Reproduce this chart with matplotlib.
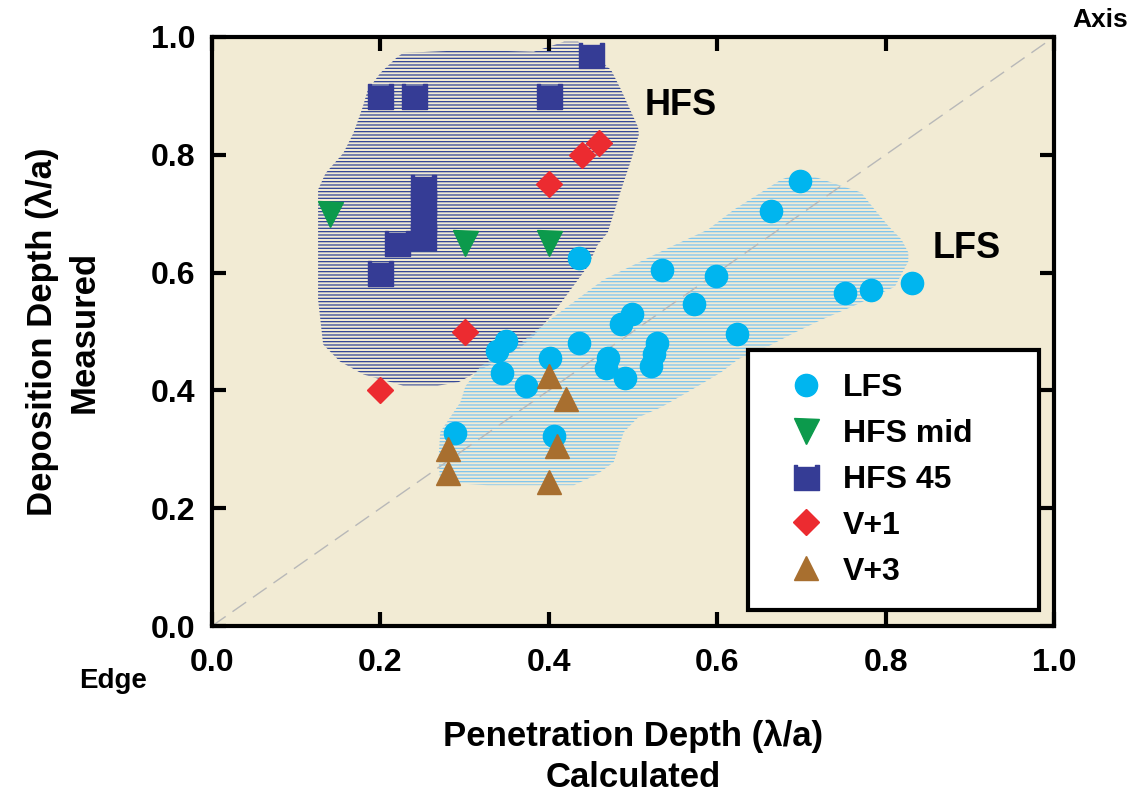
import matplotlib
matplotlib.use("Agg")
import matplotlib.pyplot as plt
from matplotlib.path import Path
from matplotlib.patches import Polygon

plt.rcParams['font.family'] = ['Liberation Sans', 'DejaVu Sans']
plt.rcParams['font.weight'] = 'bold'
plt.rcParams['hatch.linewidth'] = 0.9

# ---------------- data ----------------
lfs_x = [0.289, 0.406, 0.339, 0.349, 0.345, 0.373, 0.402, 0.436, 0.436, 0.470, 0.468,
         0.490, 0.486, 0.499, 0.529, 0.525, 0.521, 0.535, 0.573, 0.599, 0.623, 0.664,
         0.698, 0.752, 0.783, 0.831]
lfs_y = [0.328, 0.322, 0.467, 0.484, 0.430, 0.407, 0.455, 0.481, 0.625, 0.455, 0.438,
         0.421, 0.512, 0.529, 0.481, 0.461, 0.441, 0.605, 0.546, 0.594, 0.495, 0.704,
         0.755, 0.566, 0.571, 0.583]

hfs_mid_x = [0.14, 0.30, 0.40]
hfs_mid_y = [0.70, 0.65, 0.65]

hfs45_x = [0.20, 0.24, 0.40, 0.45, 0.22, 0.20, 0.25, 0.25, 0.25, 0.25]
hfs45_y = [0.90, 0.90, 0.90, 0.97, 0.65, 0.60, 0.66, 0.69, 0.72, 0.745]

v1_x = [0.20, 0.30, 0.40, 0.44, 0.46]
v1_y = [0.40, 0.50, 0.75, 0.80, 0.82]

v3_x = [0.28, 0.28, 0.40, 0.41, 0.40, 0.42]
v3_y = [0.26, 0.30, 0.245, 0.305, 0.425, 0.385]

# region outlines
hfs_region_x = [0.227, 0.307, 0.382, 0.418, 0.435, 0.474, 0.486, 0.506, 0.507, 0.498,
                0.486, 0.470, 0.458, 0.446, 0.426, 0.406, 0.382, 0.363, 0.327, 0.293,
                0.268, 0.227, 0.180, 0.152, 0.132, 0.126, 0.126, 0.135, 0.156, 0.168,
                0.179, 0.185, 0.200, 0.220]
hfs_region_y = [0.973, 0.978, 0.975, 0.992, 0.992, 0.944, 0.910, 0.847, 0.834, 0.792,
                0.741, 0.668, 0.647, 0.610, 0.571, 0.532, 0.492, 0.469, 0.441, 0.414,
                0.408, 0.408, 0.427, 0.449, 0.478, 0.554, 0.741, 0.769, 0.803, 0.837,
                0.881, 0.910, 0.939, 0.966]

lfs_region_x = [0.676, 0.692, 0.715, 0.771, 0.787, 0.804, 0.819, 0.827, 0.827, 0.811,
                0.760, 0.724, 0.692, 0.661, 0.625, 0.605, 0.565, 0.533, 0.506, 0.489,
                0.477, 0.458, 0.430, 0.327, 0.271, 0.269, 0.271, 0.277, 0.287, 0.295,
                0.301, 0.319, 0.367, 0.406, 0.465, 0.545, 0.589, 0.620, 0.652]
lfs_region_y = [0.758, 0.766, 0.763, 0.736, 0.707, 0.678, 0.656, 0.634, 0.619, 0.576,
                0.542, 0.520, 0.498, 0.475, 0.453, 0.431, 0.397, 0.371, 0.354, 0.329,
                0.278, 0.258, 0.239, 0.239, 0.244, 0.283, 0.329, 0.342, 0.363, 0.380,
                0.407, 0.441, 0.481, 0.525, 0.588, 0.644, 0.673, 0.707, 0.736]

diag = [0.0, 1.0]
ticks = [0.0, 0.2, 0.4, 0.6, 0.8, 1.0]
tick_labels = ['0.0', '0.2', '0.4', '0.6', '0.8', '1.0']

# ---------------- style ----------------
bg = '#F2EBD4'
c_lfs = '#00B5EF'
c_mid = '#0C9A4C'
c_45 = '#353C95'
c_v1 = '#EC2B30'
c_v3 = '#A86F2F'
c_hfs_hatch = '#2E4296'
c_lfs_hatch = '#7CC4EE'

notched_square = Path([(-0.5, -0.5), (0.5, -0.5), (0.5, 0.5), (0.36, 0.5), (0.36, 0.4),
                       (-0.36, 0.4), (-0.36, 0.5), (-0.5, 0.5), (-0.5, -0.5)],
                      [Path.MOVETO] + [Path.LINETO] * 7 + [Path.CLOSEPOLY])

fig = plt.figure(figsize=(11.32, 8.02), dpi=100)
ax = fig.add_axes([212 / 1132, 1 - 626 / 802, (1054 - 212) / 1132, (626 - 37) / 802])
ax.set_facecolor(bg)
ax.set_xlim(0, 1)
ax.set_ylim(0, 1)

ax.add_patch(Polygon(list(zip(hfs_region_x, hfs_region_y)), closed=True, facecolor='none',
                     edgecolor=c_hfs_hatch, linewidth=0, hatch='-----', zorder=1))
ax.add_patch(Polygon(list(zip(lfs_region_x, lfs_region_y)), closed=True, facecolor='none',
                     edgecolor=c_lfs_hatch, linewidth=0, hatch='-----', zorder=1))

ax.plot(diag, diag, color='#B8B8B8', lw=1.0, dashes=(12, 6), zorder=1.5)

ax.plot(lfs_x, lfs_y, 'o', ms=16, color=c_lfs, mec=c_lfs, ls='none', zorder=3, label='LFS')
ax.plot(hfs_mid_x, hfs_mid_y, 'v', ms=18, color=c_mid, mec=c_mid, ls='none', zorder=3, label='HFS mid')
ax.plot(hfs45_x, hfs45_y, marker=notched_square, ms=18, color=c_45, mec=c_45, ls='none', zorder=3, label='HFS 45')
ax.plot(v1_x, v1_y, 'D', ms=13, color=c_v1, mec=c_v1, ls='none', zorder=3, label='V+1')
ax.plot(v3_x, v3_y, '^', ms=17, color=c_v3, mec=c_v3, ls='none', zorder=3, label='V+3')

ax.text(0.557, 0.883, 'HFS', fontsize=26, fontweight='bold', ha='center', va='center', zorder=4)
ax.text(0.896, 0.641, 'LFS', fontsize=26, fontweight='bold', ha='center', va='center', zorder=4)

for s in ax.spines.values():
    s.set_linewidth(3)
ax.set_xticks(ticks)
ax.set_xticklabels(tick_labels)
ax.set_yticks(ticks)
ax.set_yticklabels(tick_labels)
ax.tick_params(axis='both', direction='in', length=10, width=3, top=True, right=True,
               labelsize=23)
ax.tick_params(axis='x', pad=16)
ax.tick_params(axis='y', pad=12)

ax.set_xlabel('Penetration Depth (λ/a)\nCalculated', fontsize=25, fontweight='bold',
              labelpad=30, linespacing=1.3)
ax.set_ylabel('Deposition Depth (λ/a)\nMeasured', fontsize=25, fontweight='bold',
              labelpad=36, linespacing=1.35)

fig.text(113 / 1132, 1 - 681 / 802, 'Edge', fontsize=20, fontweight='bold', ha='center', va='center')
fig.text(1100 / 1132, 1 - 20 / 802, 'Axis', fontsize=19, fontweight='bold', ha='center', va='center')

leg = ax.legend(loc='upper left', bbox_to_anchor=(0.637, 0.032, 0.345, 0.437), mode='expand',
                fontsize=23, frameon=True, fancybox=False, framealpha=1, edgecolor='black',
                borderpad=0.72, labelspacing=0.5, handlelength=2.2, handletextpad=0.05,
                borderaxespad=0)
leg.get_frame().set_linewidth(3)
leg.set_zorder(5)

fig.savefig('out.png', dpi=100)
